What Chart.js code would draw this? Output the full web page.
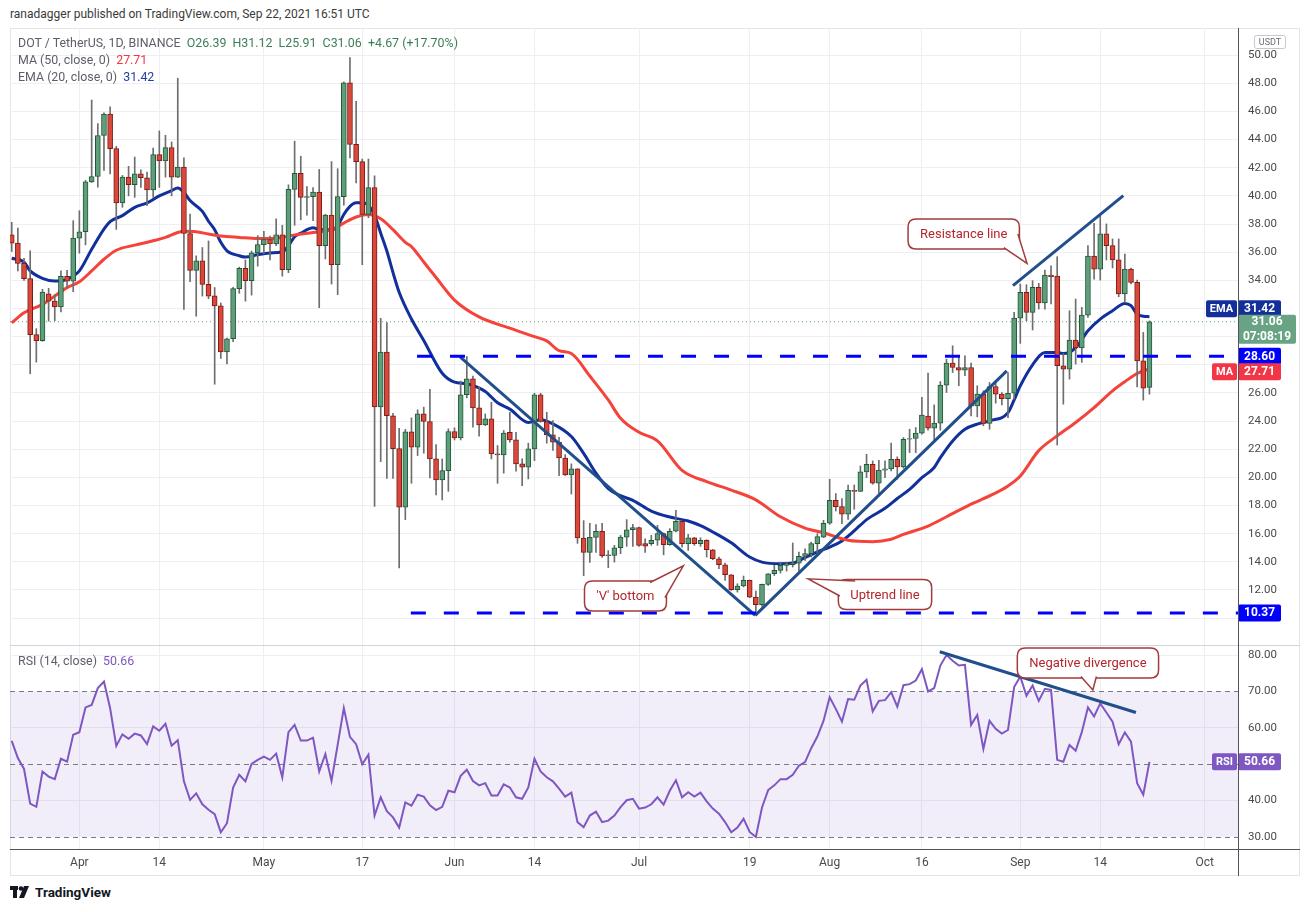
<!DOCTYPE html>
<html>
<head>
<meta charset="UTF-8">
<title>DOT / TetherUS, 1D, BINANCE</title>
<script src="https://cdn.jsdelivr.net/npm/chart.js"></script>
<style>
    body { margin: 0; background: #fff; font-family: Roboto, "Noto Sans", sans-serif; }
    #page { position: relative; width: 1310px; height: 912px; overflow: hidden; }
    #published { position: absolute; left: 10px; top: 7px; font-size: 12px; color: #3a3a3a; white-space: nowrap; }
    #frame { position: absolute; left: 10px; top: 28px; width: 1290px; height: 848px; box-sizing: border-box; border: 1px solid #e3e5ea; }
    #price-box { position: absolute; left: 10px; top: 28px; width: 1290px; height: 617px; }
    #rsi-box { position: absolute; left: 10px; top: 645px; width: 1290px; height: 231px; }
    .legend { position: absolute; left: 18px; font-size: 12.4px; color: #5d606b; white-space: nowrap; }
    .legend span { margin-left: 3px; }
    .line { position: absolute; }
    #logo { position: absolute; left: 10px; top: 884px; font-size: 13.5px; font-weight: bold; color: #131722; display: flex; align-items: center; gap: 5px; }
</style>
</head>
<body>
<div id="page">
    <div id="published">ranadagger published on TradingView.com, Sep 22, 2021 16:51 UTC</div>
    <div id="frame"></div>
    <div id="price-box"><canvas id="price"></canvas></div>
    <div id="rsi-box"><canvas id="rsi"></canvas></div>
    <div class="line" style="left:10px; top:645px; width:1290px; height:1px; background:#d1d4dc"></div>
    <div class="line" style="left:10px; top:849px; width:1290px; height:1px; background:#50535e"></div>
    <div class="line" style="left:1238px; top:28px; width:1px; height:848px; background:#50535e"></div>
    <div class="legend" style="top:35px">DOT / TetherUS, 1D, BINANCE <span style="color:#3f7d58">O26.39&nbsp; H31.12&nbsp; L25.91&nbsp; C31.06&nbsp; +4.67 (+17.70%)</span></div>
    <div class="legend" style="top:52px">MA (50, close, 0) <span style="color:#f23645">27.71</span></div>
    <div class="legend" style="top:69px">EMA (20, close, 0) <span style="color:#1c3fa8">31.42</span></div>
    <div class="legend" style="top:653px">RSI (14, close) <span style="color:#7e57c2">50.66</span></div>
    <div id="logo">
        <svg width="20" height="14" viewBox="0 0 20 14">
            <rect x="0" y="1" width="8" height="4" fill="#131722"/>
            <rect x="3" y="1" width="4" height="12" fill="#131722"/>
            <circle cx="11" cy="3.5" r="2.3" fill="#131722"/>
            <polygon points="14,1 19,1 14,13 9,13" fill="#131722"/>
        </svg>
        <span>TradingView</span>
    </div>
</div>

<script>
    // day index 1 = 21 Mar 2021 ... 186 = 22 Sep 2021
    const opens = [37.24, 36.64, 35.21, 34.12, 30.14, 29.71, 33.05, 32.52, 32.12, 34.29,
        33.95, 37.00, 37.45, 41.00, 41.38, 44.29, 45.81, 43.36, 39.50, 41.33,
        40.79, 41.57, 41.29, 40.43, 42.93, 42.48, 43.43, 41.33, 42.05, 37.33,
        34.71, 35.38, 33.71, 32.90, 32.19, 28.91, 29.85, 33.41, 34.86, 33.97,
        35.95, 36.54, 36.90, 36.59, 37.23, 34.76, 40.46, 41.60, 39.90, 39.95,
        40.28, 36.46, 38.63, 35.11, 39.95, 48.04, 43.66, 42.44, 38.68, 40.59,
        25.01, 28.91, 24.38, 22.04, 17.89, 23.23, 22.14, 24.51, 23.97, 21.31,
        19.82, 20.48, 23.26, 22.81, 25.87, 27.00, 24.94, 23.73, 24.16, 21.67,
        21.60, 23.20, 22.66, 20.96, 20.72, 22.02, 25.87, 23.97, 23.02, 22.50,
        21.38, 20.17, 20.60, 15.69, 14.67, 15.74, 16.17, 14.44, 14.46, 15.00,
        15.76, 16.28, 16.43, 15.29, 15.29, 15.53, 16.00, 15.22, 16.17, 16.88,
        15.29, 15.71, 15.29, 15.53, 14.86, 14.22, 13.79, 13.08, 12.02, 12.28,
        12.68, 11.49, 10.95, 12.40, 13.15, 13.39, 13.75, 13.80, 13.91, 14.39,
        14.58, 15.29, 15.76, 16.74, 18.37, 17.92, 17.38, 19.08, 19.00, 20.39,
        20.93, 19.58, 20.51, 20.60, 21.29, 20.74, 22.71, 22.76, 23.14, 24.35,
        23.49, 23.85, 26.55, 28.12, 27.81, 27.62, 27.81, 25.08, 25.91, 23.83,
        26.46, 25.91, 25.60, 25.98, 31.32, 33.15, 31.72, 33.50, 32.39, 34.38,
        34.30, 27.93, 27.69, 29.75, 29.19, 31.53, 35.73, 34.80, 37.30, 36.47,
        35.45, 33.03, 34.80, 33.86, 28.28, 26.39];
    const highs = [38.12, 37.71, 35.57, 36.10, 30.57, 33.36, 33.43, 33.00, 34.67, 34.71,
        38.24, 38.95, 41.10, 46.81, 45.14, 45.90, 46.33, 43.52, 41.45, 42.10,
        42.76, 41.86, 41.69, 43.40, 44.62, 44.31, 43.83, 48.36, 42.71, 38.71,
        35.74, 36.33, 36.80, 33.49, 32.39, 29.90, 33.50, 34.94, 35.45, 36.08,
        37.18, 37.48, 37.15, 38.37, 37.91, 40.79, 43.89, 42.82, 40.66, 40.59,
        41.88, 38.70, 42.44, 41.93, 48.10, 49.82, 46.72, 42.62, 42.62, 41.42,
        31.30, 31.00, 24.55, 23.49, 23.41, 24.23, 24.80, 24.99, 26.25, 22.33,
        21.31, 23.45, 23.52, 26.84, 28.59, 27.20, 26.41, 24.51, 25.34, 22.26,
        23.33, 24.63, 23.20, 21.31, 22.43, 25.98, 25.98, 24.63, 24.04, 22.85,
        21.62, 20.96, 20.62, 16.93, 16.74, 16.64, 16.74, 14.80, 15.17, 15.88,
        17.00, 16.66, 16.46, 15.64, 15.88, 16.59, 16.05, 16.36, 17.66, 16.90,
        15.95, 15.74, 15.71, 15.57, 14.88, 14.34, 13.91, 13.10, 12.44, 12.99,
        12.70, 11.92, 12.42, 13.17, 13.75, 13.98, 13.98, 15.34, 14.70, 14.93,
        15.40, 16.00, 16.95, 19.87, 18.85, 18.49, 19.46, 19.46, 20.81, 21.64,
        21.17, 21.22, 21.17, 22.43, 21.46, 22.83, 23.42, 23.54, 25.68, 27.41,
        25.15, 26.81, 28.40, 29.35, 28.64, 28.64, 28.12, 26.51, 26.15, 26.74,
        26.70, 26.03, 27.45, 31.72, 33.74, 33.69, 33.98, 33.79, 34.73, 35.04,
        35.68, 28.80, 31.84, 32.67, 32.08, 36.47, 38.05, 38.67, 38.01, 36.94,
        36.94, 35.87, 34.88, 34.02, 30.30, 31.12];
    const lows = [36.05, 34.67, 34.00, 27.36, 28.19, 29.67, 31.10, 31.14, 31.76, 33.48,
        33.19, 35.93, 36.52, 40.95, 40.62, 41.81, 41.57, 37.62, 39.19, 40.00,
        39.90, 40.60, 39.30, 39.90, 40.60, 41.33, 40.00, 41.30, 31.93, 33.90,
        31.45, 32.88, 32.70, 26.62, 28.45, 28.07, 29.64, 33.08, 32.52, 32.95,
        35.01, 35.90, 35.45, 36.46, 34.30, 34.55, 37.91, 38.30, 38.63, 38.24,
        32.06, 35.52, 33.74, 32.98, 39.34, 42.70, 40.92, 35.11, 38.45, 17.94,
        21.12, 19.92, 19.92, 13.56, 17.00, 19.58, 21.55, 21.72, 19.96, 18.75,
        18.40, 19.01, 22.66, 22.66, 25.65, 23.57, 22.93, 23.68, 21.31, 19.58,
        20.30, 22.50, 20.44, 19.41, 19.89, 21.19, 23.92, 22.43, 21.91, 20.13,
        20.13, 18.82, 15.31, 13.01, 13.96, 14.67, 14.32, 13.58, 13.98, 14.58,
        15.10, 15.10, 15.10, 14.67, 15.17, 15.17, 14.50, 15.17, 16.12, 15.05,
        14.81, 15.17, 15.10, 14.34, 14.15, 13.51, 12.68, 11.97, 11.85, 12.21,
        11.45, 10.38, 10.83, 12.32, 13.03, 13.20, 13.34, 13.63, 13.34, 14.10,
        14.34, 14.58, 15.72, 16.66, 17.61, 16.71, 17.02, 17.73, 19.00, 19.98,
        19.51, 18.68, 19.98, 20.46, 19.87, 20.65, 21.76, 21.76, 23.07, 23.35,
        22.47, 23.35, 26.03, 27.45, 26.51, 27.22, 24.37, 24.30, 23.66, 23.42,
        25.27, 25.15, 24.25, 25.56, 29.52, 31.13, 30.47, 31.96, 31.96, 32.32,
        22.30, 25.20, 26.98, 28.05, 28.17, 31.37, 34.09, 34.02, 35.45, 34.88,
        32.84, 32.43, 33.74, 26.43, 25.49, 25.91];
    const closes = [36.64, 35.21, 34.12, 30.14, 29.71, 33.17, 32.52, 32.12, 34.29, 33.95,
        37.00, 37.45, 41.00, 41.38, 44.29, 45.81, 43.36, 39.50, 41.33, 40.79,
        41.57, 41.29, 40.43, 42.93, 42.48, 43.43, 41.33, 42.05, 37.33, 34.71,
        35.38, 33.71, 32.88, 32.19, 28.91, 29.85, 33.41, 34.86, 33.97, 35.95,
        36.54, 36.90, 36.59, 37.23, 34.76, 40.46, 41.60, 39.90, 39.95, 40.28,
        36.46, 38.63, 35.11, 39.95, 48.04, 43.66, 42.44, 38.68, 40.59, 25.01,
        28.91, 24.38, 22.04, 17.89, 23.23, 22.14, 24.51, 23.97, 21.31, 19.82,
        20.48, 23.26, 22.81, 25.87, 27.00, 24.94, 23.73, 24.16, 21.67, 21.60,
        23.14, 22.66, 20.96, 20.72, 22.02, 25.87, 23.97, 23.02, 22.50, 21.38,
        20.17, 20.60, 15.69, 14.67, 15.74, 16.17, 14.44, 14.50, 15.00, 15.76,
        16.28, 16.43, 15.17, 15.12, 15.53, 16.00, 15.22, 16.17, 16.88, 15.29,
        15.71, 15.29, 15.53, 14.86, 14.22, 13.79, 13.08, 12.02, 12.28, 12.68,
        11.49, 10.95, 12.40, 13.15, 13.39, 13.75, 13.85, 13.92, 14.39, 14.58,
        15.29, 15.79, 16.74, 18.37, 17.92, 17.38, 19.08, 19.00, 20.39, 20.93,
        19.58, 20.51, 20.60, 21.29, 20.74, 22.71, 22.76, 23.14, 24.42, 23.49,
        23.85, 26.55, 28.12, 27.81, 27.62, 27.81, 25.08, 25.91, 23.83, 26.46,
        25.91, 25.60, 25.98, 31.32, 33.15, 31.72, 33.50, 32.39, 34.38, 34.26,
        27.93, 27.69, 29.75, 29.19, 31.53, 35.73, 34.80, 37.30, 36.47, 35.45,
        33.03, 34.80, 33.86, 28.28, 26.34, 31.06];
    const days = opens.map((v, i) => i + 1);

    // EMA (20) and MA (50) at these days
    const emaDays = [1, 3, 4, 6, 8, 10, 12, 14, 16, 17, 19, 21, 23, 25, 27, 28, 29, 30, 32, 33,
        34, 35, 36, 38, 39, 41, 43, 45, 46, 47, 48, 50, 51, 53, 54, 55, 56, 57, 58, 59,
        60, 61, 62, 63, 64, 66, 68, 71, 73, 75, 78, 80, 82, 85, 87, 89, 92, 94, 96, 98,
        100, 102, 105, 108, 111, 113, 115, 118, 121, 123, 126, 128, 130, 132, 134, 136, 139, 140, 143, 145,
        147, 149, 151, 152, 154, 156, 158, 160, 163, 164, 165, 167, 169, 171, 172, 174, 176, 178, 180, 182,
        183, 184, 185, 186];
    const emaValues = [35.57, 35.30, 34.67, 34.14, 33.95, 34.07, 34.67, 36.21, 37.64, 38.17, 38.60, 39.19, 39.50, 40.00, 40.38, 40.57, 40.26, 39.67, 38.90, 38.20,
        37.60, 36.70, 36.10, 35.75, 35.65, 35.83, 35.95, 36.03, 36.46, 37.10, 37.35, 37.74, 37.60, 37.60, 37.86, 38.68, 39.26, 39.52, 39.52, 39.34,
        38.63, 37.35, 36.08, 34.55, 33.15, 31.25, 29.73, 27.40, 26.77, 26.65, 26.10, 25.30, 24.85, 23.90, 24.09, 23.80, 22.90, 21.70, 20.30, 19.20,
        18.70, 18.37, 17.60, 17.18, 16.90, 16.57, 16.12, 15.35, 14.34, 13.98, 13.87, 13.91, 14.30, 14.70, 15.05, 15.48, 16.60, 17.00, 17.80, 18.50,
        19.15, 19.98, 20.70, 21.40, 22.59, 23.42, 23.78, 24.02, 24.60, 25.50, 26.50, 28.00, 28.88, 28.88, 28.80, 29.20, 30.42, 31.25, 31.84, 32.36,
        32.20, 31.60, 31.45, 31.42];
    const maDays = [1, 3, 6, 10, 12, 14, 16, 18, 21, 24, 26, 28, 29, 31, 33, 35, 38, 41, 43, 45,
        47, 50, 53, 55, 57, 59, 61, 63, 65, 66, 68, 70, 73, 77, 82, 86, 88, 90, 92, 95,
        98, 100, 103, 106, 110, 114, 118, 122, 126, 130, 133, 137, 141, 144, 146, 150, 153, 157, 160, 163,
        165, 168, 171, 174, 177, 180, 182, 184, 186];
    const maValues = [30.98, 31.69, 32.29, 33.48, 33.90, 34.67, 35.50, 36.14, 36.50, 36.81, 37.05, 37.40, 37.48, 37.45, 37.29, 37.15, 37.05, 36.97, 36.97, 37.05,
        37.23, 37.40, 37.60, 38.07, 38.50, 38.68, 38.37, 37.60, 36.70, 36.40, 35.30, 34.20, 32.60, 31.40, 30.60, 30.00, 29.70, 29.00, 28.80, 27.20,
        25.50, 24.20, 23.20, 22.60, 20.50, 19.70, 19.10, 18.40, 17.20, 16.40, 16.07, 15.53, 15.43, 15.60, 15.95, 16.54, 17.20, 18.10, 18.68, 19.39,
        20.10, 21.90, 22.95, 23.90, 24.96, 26.15, 26.80, 27.38, 27.71];

    const rsiValues = [56.4, 51.7, 48.7, 39.2, 38.3, 48.0, 46.6, 45.9, 51.5, 50.7,
        58.1, 58.8, 65.6, 66.3, 70.9, 72.7, 65.4, 55.0, 58.2, 57.0,
        58.4, 57.9, 55.5, 60.4, 59.2, 61.1, 55.1, 56.6, 45.3, 40.2,
        42.0, 39.0, 37.5, 36.3, 31.3, 33.8, 43.6, 47.1, 45.3, 50.1,
        51.2, 52.1, 51.2, 52.9, 46.4, 58.8, 60.8, 56.5, 56.5, 57.3,
        48.0, 52.8, 45.4, 55.3, 65.4, 57.5, 55.5, 50.0, 52.6, 35.9,
        40.9, 37.1, 35.4, 32.6, 39.5, 38.6, 41.6, 41.1, 38.7, 37.4,
        38.3, 42.7, 42.3, 46.8, 48.5, 45.4, 44.2, 44.8, 41.4, 41.4,
        44.5, 43.6, 40.9, 40.5, 43.6, 51.5, 48.0, 46.4, 45.3, 43.3,
        41.1, 42.2, 34.1, 32.7, 35.9, 37.0, 34.1, 34.5, 35.9, 38.2,
        40.1, 40.5, 37.8, 38.1, 39.0, 40.9, 38.9, 42.7, 45.6, 40.9,
        42.3, 41.1, 42.2, 39.8, 37.8, 36.4, 34.1, 31.3, 32.6, 35.0,
        31.4, 30.0, 38.1, 42.9, 44.2, 45.9, 45.9, 47.1, 49.6, 50.6,
        54.4, 57.6, 61.9, 68.4, 65.2, 61.7, 67.9, 67.7, 71.6, 73.2,
        64.5, 67.4, 67.6, 69.8, 65.8, 71.7, 72.0, 73.0, 76.1, 70.0,
        70.9, 77.1, 80.0, 78.4, 77.1, 77.3, 60.8, 63.5, 54.2, 61.9,
        59.7, 58.4, 59.4, 71.2, 74.1, 68.8, 71.6, 67.4, 70.7, 70.4,
        51.2, 50.7, 55.3, 53.7, 58.8, 65.6, 63.1, 66.7, 64.2, 61.7,
        55.5, 58.7, 56.2, 44.8, 41.6, 50.66];

    const tickDays = [12, 25, 42, 58, 73, 86, 103, 121, 134, 149, 165, 178, 195];
    const tickLabels = ['Apr', '14', 'May', '17', 'Jun', '14', 'Jul', '19', 'Aug', '16', 'Sep', '14', 'Oct'];
    const priceTicks = [10, 12, 14, 16, 18, 20, 22, 24, 26, 28, 30, 32, 34, 36, 38, 40, 42, 44, 46, 48, 50];
    const priceHidden = [10, 28, 30, 32];
    const rsiTicks = [30, 40, 50, 60, 70, 80];

    // drawn levels and trend lines: [startDay, startValue, endDay, endValue]
    const support = [65.9, 10.37, 200.4, 10.37];
    const resistance = [66.9, 28.60, 200.4, 28.60];
    const downTrend = [73.9, 28.57, 121.9, 10.2];
    const upTrend = [121.9, 10.2, 162.8, 27.57];
    const resistanceLine = [163.8, 33.62, 181.75, 40.02];
    const rsiTrend = [151.9, 80.9, 183.8, 64.2];

    const X_MIN = 0.72, X_MAX = 200.4;
    const AXIS_W = 62;

    Chart.defaults.font.family = 'Roboto, "Noto Sans", sans-serif';
    Chart.defaults.animation = false;

    function seg(s) {
        return [{x: s[0], y: s[1]}, {x: s[2], y: s[3]}];
    }

    function lineSet(points, color, width, dash, order) {
        return {
            type: 'line', data: points, borderColor: color, borderWidth: width,
            borderDash: dash || [], pointRadius: 0, fill: false, order: order
        };
    }

    function xScale(showLabels) {
        return {
            type: 'linear', min: X_MIN, max: X_MAX, offset: false,
            grid: {color: '#eeeff2', offset: false, drawTicks: false},
            border: {display: false},
            afterBuildTicks: s => { s.ticks = tickDays.map(v => ({value: v})); },
            ticks: {
                display: showLabels, padding: 7, color: '#4a4a4a', font: {size: 12},
                maxRotation: 0, autoSkip: false,
                callback: v => tickLabels[tickDays.indexOf(v)]
            },
            afterFit: s => { s.height = showLabels ? 27 : 0; s.paddingLeft = 0; s.paddingRight = 0; }
        };
    }

    function roundRect(ctx, x, y, w, h, r) {
        ctx.beginPath();
        ctx.moveTo(x + r, y);
        ctx.lineTo(x + w - r, y);
        ctx.quadraticCurveTo(x + w, y, x + w, y + r);
        ctx.lineTo(x + w, y + h - r);
        ctx.quadraticCurveTo(x + w, y + h, x + w - r, y + h);
        ctx.lineTo(x + r, y + h);
        ctx.quadraticCurveTo(x, y + h, x, y + h - r);
        ctx.lineTo(x, y + r);
        ctx.quadraticCurveTo(x, y, x + r, y);
        ctx.closePath();
    }

    function tag(ctx, x, yc, w, h, bg, lines, font) {
        ctx.fillStyle = bg;
        roundRect(ctx, x, yc - h / 2, w, h, 2);
        ctx.fill();
        ctx.fillStyle = '#fff';
        ctx.font = font || 'bold 12px Roboto';
        ctx.textAlign = 'center';
        ctx.textBaseline = 'middle';
        const lh = h / lines.length;
        lines.forEach((t, i) => ctx.fillText(t, x + w / 2, yc - h / 2 + lh * (i + 0.5) + 0.5));
    }

    function callout(chart, c) {
        const ctx = chart.ctx, xs = chart.scales.x, ys = chart.scales.y;
        const cx = xs.getPixelForValue(c.x), cy = ys.getPixelForValue(c.y);
        const tx = xs.getPixelForValue(c.tipX), ty = ys.getPixelForValue(c.tipY);
        ctx.save();
        ctx.font = '13px Roboto';
        const w = ctx.measureText(c.text).width + 24, h = 30;
        const l = cx - w / 2, t = cy - h / 2;
        ctx.strokeStyle = '#a23b3b';
        ctx.lineWidth = 1.5;
        ctx.fillStyle = '#fff';
        roundRect(ctx, l, t, w, h, 8);
        ctx.fill();
        ctx.stroke();
        const b = c.base.map(([fx, fy]) => [l + fx * w + (fx === 0 ? 1.5 : fx === 1 ? -1.5 : 0),
            t + fy * h + (fy === 0 ? 1.5 : fy === 1 ? -1.5 : 0)]);
        ctx.beginPath();
        ctx.moveTo(b[0][0], b[0][1]);
        ctx.lineTo(tx, ty);
        ctx.lineTo(b[1][0], b[1][1]);
        ctx.closePath();
        ctx.fill();
        ctx.beginPath();
        ctx.moveTo(b[0][0], b[0][1]);
        ctx.lineTo(tx, ty);
        ctx.lineTo(b[1][0], b[1][1]);
        ctx.stroke();
        ctx.fillStyle = '#b3262b';
        ctx.textAlign = 'center';
        ctx.textBaseline = 'middle';
        ctx.fillText(c.text, cx, cy + 1);
        ctx.restore();
    }

    const priceCallouts = [
        {text: 'Resistance line', x: 155.8, y: 37.29, tipX: 166.1, tipY: 35.21, base: [[1, 0.5], [0.86, 1]]},
        {text: "'V' bottom", x: 100.8, y: 11.57, tipX: 110.2, tipY: 13.71, base: [[0.8, 0], [1, 0.55]]},
        {text: 'Uptrend line', x: 143.0, y: 11.68, tipX: 130.5, tipY: 12.79, base: [[0, 0.55], [0.18, 0]]}
    ];
    const rsiCallouts = [
        {text: 'Negative divergence', x: 176.0, y: 77.8, tipX: 176.8, tipY: 70.4, base: [[0.45, 1], [0.56, 1]]}
    ];

    const priceOverlay = {
        id: 'priceOverlay',
        afterDatasetsDraw(chart) {
            priceCallouts.forEach(c => callout(chart, c));
        },
        afterDraw(chart) {
            const ctx = chart.ctx, ys = chart.scales.y, R = chart.chartArea.right;
            ctx.save();
            // USDT box
            ctx.fillStyle = '#fff';
            ctx.strokeStyle = '#c5c8d0';
            ctx.lineWidth = 1;
            roundRect(ctx, R + 16.5, 7.5, 31, 13, 2);
            ctx.fill();
            ctx.stroke();
            ctx.fillStyle = '#6a6d78';
            ctx.font = '9px Roboto';
            ctx.textAlign = 'center';
            ctx.textBaseline = 'middle';
            ctx.fillText('USDT', R + 32, 14.5);

            const yEma = ys.getPixelForValue(31.42) - 8;
            tag(ctx, R - 32, yEma, 31, 17, '#13309a', ['EMA'], 'bold 11px Roboto');
            tag(ctx, R, yEma, 43, 17, '#13309a', ['31.42']);
            const yLast = ys.getPixelForValue(31.06);
            tag(ctx, R, yLast + 7.5, 58, 29, '#68a383', ['31.06', '07:08:19']);
            tag(ctx, R, ys.getPixelForValue(28.60), 43, 17, '#0000ff', ['28.60']);
            const yMa = ys.getPixelForValue(27.71) + 3;
            tag(ctx, R - 26, yMa, 25, 17, '#f23645', ['MA'], 'bold 11px Roboto');
            tag(ctx, R, yMa, 43, 17, '#f23645', ['27.71']);
            tag(ctx, R, ys.getPixelForValue(10.37), 43, 17, '#0000ff', ['10.37']);
            ctx.restore();
        }
    };

    const rsiOverlay = {
        id: 'rsiOverlay',
        beforeDatasetsDraw(chart) {
            const ctx = chart.ctx, ys = chart.scales.y, a = chart.chartArea;
            ctx.save();
            ctx.fillStyle = 'rgba(126, 87, 194, 0.1)';
            const y70 = ys.getPixelForValue(70), y30 = ys.getPixelForValue(30);
            ctx.fillRect(a.left, y70, a.right - a.left, y30 - y70);
            ctx.strokeStyle = '#787b86';
            ctx.lineWidth = 1;
            ctx.setLineDash([5, 4]);
            [70, 50, 30].forEach(v => {
                const y = Math.round(ys.getPixelForValue(v)) + 0.5;
                ctx.beginPath();
                ctx.moveTo(a.left, y);
                ctx.lineTo(a.right, y);
                ctx.stroke();
            });
            ctx.restore();
        },
        afterDatasetsDraw(chart) {
            rsiCallouts.forEach(c => callout(chart, c));
        },
        afterDraw(chart) {
            const ctx = chart.ctx, ys = chart.scales.y, R = chart.chartArea.right;
            ctx.save();
            const y = ys.getPixelForValue(50.66);
            tag(ctx, R - 26, y, 25, 17, '#7e57c2', ['RSI'], 'bold 11px Roboto');
            tag(ctx, R, y, 43, 17, '#7e57c2', ['50.66']);
            ctx.restore();
        }
    };

    new Chart(document.getElementById('price'), {
        type: 'bar',
        data: {
            datasets: [
                {
                    type: 'bar', label: 'wick', grouped: false, order: 3,
                    data: days.map((d, i) => ({x: d, y: [lows[i], highs[i]]})),
                    backgroundColor: '#6e6e6e', barThickness: 1
                },
                {
                    type: 'bar', label: 'body', grouped: false, order: 2,
                    data: days.map((d, i) => ({x: d, y: [opens[i], closes[i]]})),
                    backgroundColor: c => closes[c.dataIndex] >= opens[c.dataIndex] ? '#5e9e7b' : '#d9483b',
                    borderColor: c => closes[c.dataIndex] >= opens[c.dataIndex] ? '#22583a' : '#7b1d16',
                    borderWidth: 1, borderSkipped: false, barThickness: 5
                },
                lineSet(maDays.map((d, i) => ({x: d, y: maValues[i]})), '#f4433a', 3, null, 4),
                lineSet(emaDays.map((d, i) => ({x: d, y: emaValues[i]})), '#12309b', 3, null, 4),
                lineSet([{x: X_MIN, y: 31.06}, {x: X_MAX, y: 31.06}], '#5e9e7b', 1, [1, 3], 5),
                lineSet(seg(resistance), '#0000ff', 3, [15, 18], 1),
                lineSet(seg(support), '#0000ff', 3, [15, 18], 1),
                lineSet(seg(downTrend), '#214f8c', 3, null, 1),
                lineSet(seg(upTrend), '#214f8c', 3, null, 1),
                lineSet(seg(resistanceLine), '#214f8c', 3, null, 1)
            ]
        },
        options: {
            responsive: true, maintainAspectRatio: false,
            layout: {padding: 0},
            events: [],
            datasets: {line: {tension: 0.35, cubicInterpolationMode: 'monotone'}},
            plugins: {legend: {display: false}, tooltip: {enabled: false}},
            scales: {
                x: xScale(false),
                y: {
                    position: 'right', min: 8.09, max: 51.93, beginAtZero: false,
                    grid: {color: '#eeeff2', drawTicks: false},
                    border: {display: false},
                    afterBuildTicks: s => { s.ticks = priceTicks.map(v => ({value: v})); },
                    ticks: {
                        padding: 10, color: '#4a4a4a', font: {size: 11.5},
                        callback: v => priceHidden.includes(v) ? '' : v.toFixed(2)
                    },
                    afterFit: s => { s.width = AXIS_W; s.paddingTop = 0; s.paddingBottom = 0; }
                }
            }
        },
        plugins: [priceOverlay]
    });

    new Chart(document.getElementById('rsi'), {
        type: 'line',
        data: {
            datasets: [
                lineSet(days.map((d, i) => ({x: d, y: rsiValues[i]})), '#7e57c2', 2, null, 2),
                lineSet(seg(rsiTrend), '#214f8c', 3, null, 1)
            ]
        },
        options: {
            responsive: true, maintainAspectRatio: false,
            layout: {padding: 0},
            events: [],
            datasets: {line: {tension: 0}},
            plugins: {legend: {display: false}, tooltip: {enabled: false}},
            scales: {
                x: xScale(true),
                y: {
                    position: 'right', min: 26.71, max: 82.75,
                    grid: {color: c => c.tick && c.tick.value % 20 === 0 ? '#eeeff2' : 'rgba(0,0,0,0)', drawTicks: false},
                    border: {display: false},
                    afterBuildTicks: s => { s.ticks = rsiTicks.map(v => ({value: v})); },
                    ticks: {
                        padding: 10, color: '#4a4a4a', font: {size: 11.5},
                        callback: v => v === 50 ? '' : v.toFixed(2)
                    },
                    afterFit: s => { s.width = AXIS_W; s.paddingTop = 0; s.paddingBottom = 0; }
                }
            }
        },
        plugins: [rsiOverlay]
    });
</script>
</body>
</html>
